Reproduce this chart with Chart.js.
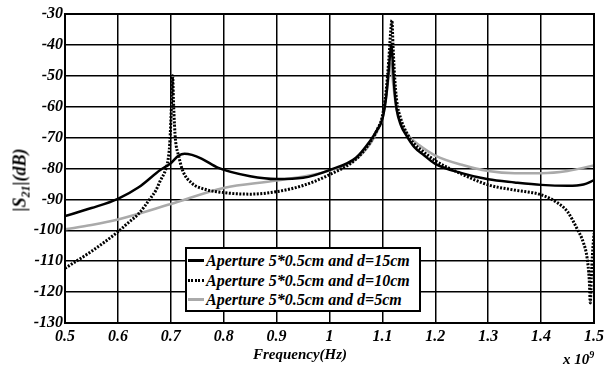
<!DOCTYPE html>
<html><head><meta charset="utf-8">
<script src="https://cdn.jsdelivr.net/npm/chart.js@4"></script>
<style>
html,body{margin:0;padding:0;background:#fff;}
#wrap{position:relative;width:608px;height:365px;overflow:hidden;}
canvas{position:absolute;left:0;top:0;}
.t{position:absolute;font-family:"Liberation Serif","Times New Roman",serif;font-weight:bold;font-style:italic;color:#000;white-space:nowrap;line-height:1;}
#legend{position:absolute;left:185px;top:247px;width:231px;height:59px;border:2px solid #000;background:#fff;padding:2px 0 0 1px;box-sizing:content-box;}
#legend .row{height:19.5px;line-height:19.5px;font-family:"Liberation Serif","Times New Roman",serif;font-weight:bold;font-style:italic;font-size:16px;white-space:nowrap;display:flex;align-items:center;}
#legend .sw{display:inline-block;width:16px;height:3px;margin-right:2px;flex:none;}
</style>
</head><body>
<div id="wrap">
<canvas id="c" width="608" height="365"></canvas>
<div id="legend"></div>
<div class="t" id="ytitle" style="left:21px;top:180px;font-size:18px;transform:translate(-50%,-50%) rotate(-90deg);">|S<sub style="font-size:12px;vertical-align:-4px;">21</sub>|(dB)</div>
<div class="t" style="left:300px;top:354px;font-size:15px;transform:translate(-50%,-50%);">Frequency(Hz)</div>
<div class="t" style="left:563px;top:350px;font-size:15px;">x 10<sup style="font-size:10px;vertical-align:6px;">9</sup></div>
</div>
<script>
// Frequency in units of 1e9 Hz
const seriesNames = ['Aperture 5*0.5cm and d=15cm','Aperture 5*0.5cm and d=10cm','Aperture 5*0.5cm and d=5cm'];

const freq15 = [0.5,0.55,0.6,0.64,0.68,0.7,0.715,0.726,0.74,0.758,0.79,0.85,0.9,0.95,1.0,1.05,1.077,1.09,1.1,1.107,1.111,1.114,1.117,1.12,1.123,1.127,1.135,1.146,1.16,1.177,1.2,1.25,1.3,1.35,1.4,1.45,1.48,1.5];
const s21_15 = [-95.4,-92.8,-89.8,-86,-80.5,-78.3,-75.8,-75.2,-75.6,-76.8,-79.8,-82.5,-83.4,-83,-80.5,-76.5,-71,-67.5,-64,-57,-50,-44,-39.7,-47,-55,-61,-66,-69.5,-73,-75.5,-78.5,-81.5,-83.5,-84.5,-85.3,-85.6,-85.2,-83.8];

const freq10 = [0.5,0.55,0.6,0.62,0.64,0.66,0.672,0.68,0.69,0.695,0.698,0.7,0.702,0.7035,0.705,0.707,0.709,0.715,0.722,0.74,0.76,0.8,0.85,0.9,0.95,1.0,1.05,1.077,1.09,1.1,1.107,1.112,1.116,1.118,1.12,1.123,1.127,1.135,1.146,1.16,1.177,1.2,1.25,1.3,1.35,1.4,1.43,1.45,1.468,1.48,1.487,1.491,1.493,1.495,1.497,1.5];
const s21_10 = [-112.3,-106.8,-100.5,-97.5,-94.5,-90,-87,-84,-80.5,-77,-72,-65,-56,-50,-58,-66,-71,-76,-80.5,-84.8,-86.5,-87.8,-88.3,-87.5,-85.5,-82,-77,-71.5,-67.5,-63,-55,-45,-35,-32,-40,-50,-58,-64,-68.5,-72,-74.5,-77.5,-81.8,-85.3,-87,-88.5,-91,-94,-99.5,-104,-109,-116,-123.5,-115,-108,-101];

const freq5 = [0.5,0.55,0.6,0.7,0.8,0.9,1.0,1.05,1.077,1.09,1.1,1.107,1.112,1.116,1.12,1.125,1.13,1.14,1.15,1.17,1.2,1.25,1.3,1.35,1.4,1.45,1.5];
const s21_5 = [-99.7,-98.3,-96.5,-91.5,-86.3,-83.9,-80.7,-77,-72,-68,-64,-57,-50,-46,-52,-59,-63,-67,-69.5,-72.5,-75.8,-78.8,-80.8,-81.5,-81.5,-80.8,-79];

const toXY = (xs, ys) => xs.map((x, i) => ({x: x, y: ys[i]}));
const fontSpec = {family:'"Liberation Serif", "Times New Roman", serif', size:16, weight:'bold', style:'italic'};

const boxPlugin = {
  id:'box',
  afterDraw(chart){
    const a = chart.chartArea, ctx = chart.ctx;
    ctx.save(); ctx.strokeStyle='#000'; ctx.lineWidth=2;
    ctx.strokeRect(a.left, a.top, a.right-a.left, a.bottom-a.top);
    ctx.restore();
  }
};

const styles = [
  {borderColor:'#000', borderWidth:2.5, borderDash:[], order:2},
  {borderColor:'#000', borderWidth:3, borderDash:[2,1.5], order:1},
  {borderColor:'#aaaaaa', borderWidth:2.5, borderDash:[], order:3}
];
const datasets = [toXY(freq15,s21_15), toXY(freq10,s21_10), toXY(freq5,s21_5)].map((d,i)=>Object.assign({
  label: seriesNames[i], data: d, pointRadius:0, fill:false, cubicInterpolationMode:'monotone', borderCapStyle:'butt'
}, styles[i]));

new Chart(document.getElementById('c'), {
  type:'line',
  data:{datasets},
  options:{
    responsive:false, animation:false, events:[],
    layout:{padding:{left:0,right:11,top:14,bottom:0}},
    plugins:{legend:{display:false},tooltip:{enabled:false}},
    scales:{
      x:{type:'linear',min:0.5,max:1.5,
        ticks:{stepSize:0.1,color:'#000',font:fontSpec,padding:4,maxRotation:0,autoSkip:false,
          callback:v=>String(Math.round(v*10)/10)},
        grid:{color:'#000',lineWidth:1.5,drawTicks:false},
        border:{color:'#000',width:2},
        afterFit:s=>{s.height=42;}
      },
      y:{type:'linear',min:-130,max:-30,
        ticks:{stepSize:10,color:'#000',font:fontSpec,padding:2},
        grid:{color:'#000',lineWidth:1.5,drawTicks:false},
        border:{color:'#000',width:2},
        afterFit:s=>{s.width=65;}
      }
    }
  },
  plugins:[boxPlugin]
});

// HTML legend built from the datasets
const lg = document.getElementById('legend');
datasets.forEach((ds,i)=>{
  const row = document.createElement('div'); row.className='row';
  const sw = document.createElement('span'); sw.className='sw';
  if (i===1) sw.style.background='repeating-linear-gradient(90deg,#000 0 2px,transparent 2px 3.5px)';
  else sw.style.background = ds.borderColor;
  row.appendChild(sw);
  row.appendChild(document.createTextNode(ds.label));
  lg.appendChild(row);
});
</script>
</body></html>
